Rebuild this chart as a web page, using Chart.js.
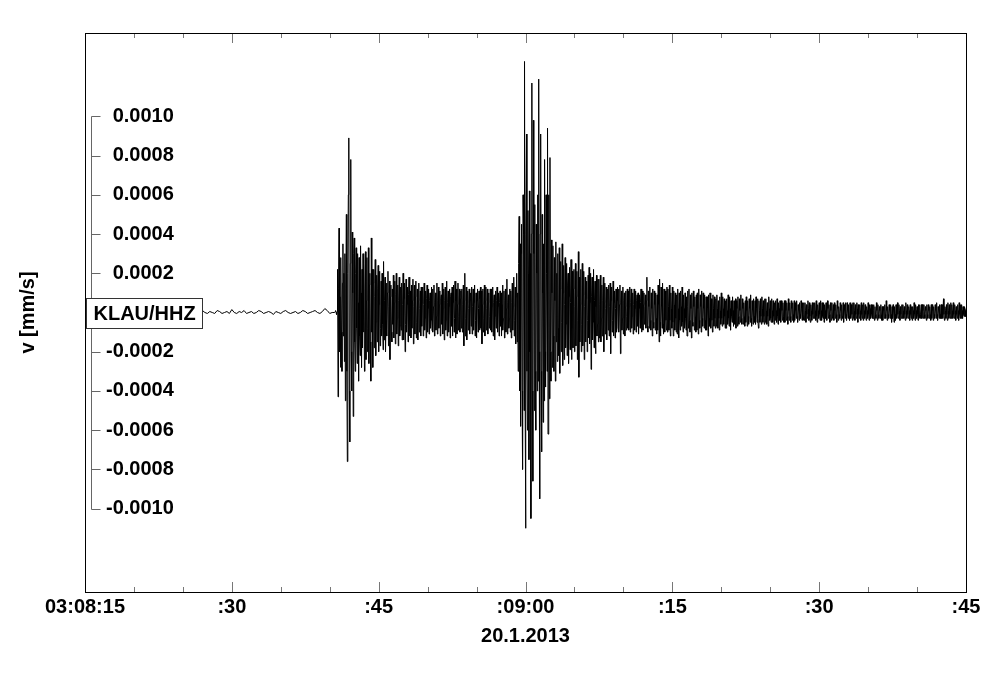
<!DOCTYPE html>
<html>
<head>
<meta charset="utf-8">
<script src="https://cdn.jsdelivr.net/npm/chart.js@4/dist/chart.umd.min.js"></script>
<style>
  html, body { margin: 0; padding: 0; background: #fff; }
  #wrap { width: 1000px; height: 677px; }
</style>
</head>
<body>
<div id="wrap"><canvas id="seis" width="1000" height="677"></canvas></div>
<script>
// station trace, time in seconds after 03:08:15
const stationLabel = 'KLAU/HHZ';
const dateLabel = '20.1.2013';
const unitLabel = 'v [mm/s]';

const xTickSeconds = [0, 15, 30, 45, 60, 75, 90];
const xTickLabels = ['03:08:15', ':30', ':45', ':09:00', ':15', ':30', ':45'];
const xMinorStep = 5;
const yTickValues = [-0.001, -0.0008, -0.0006, -0.0004, -0.0002, 0.0002, 0.0004, 0.0006, 0.0008, 0.001];

// amplitudes below are in units of 1e-5 mm/s
const ampUnit = 1e-5;

// quiet part before the first arrival
const quietStart = 8;
const quietStep = 0.25;
const quietAmp = [
  0, 0.5, -0.5, 0, 0.5, 1, 0, -0.5,
  0, 0.5, -0.5, 0.5, 0, -1, 0, 0.5,
  1, 0, -0.5, 0.5, 0, -0.5, 1, 0.5,
  -0.5, 0, 0.5, -0.5, 1.5, 0, -0.5, 0.5,
  0, 1, -0.5, 0, 0.5, -0.5, 0, 1,
  0.5, -0.5, 0, 0.5, 0, -1, 0.5, 0,
  -0.5, 0.5, 1, 0, -0.5, 0, 0.5, -0.5,
  0, 1, 0.5, -0.5, 0, 0.5, 1, 0,
  -0.5, 0.5, 2, 1, -0.5, 0
];

// from 25.5 s to 90 s, one row per second (20 samples)
const quakeStart = 25.5;
const quakeStep = 0.05;
const quakeAmp = [
  0, 0.5, 1, 0, -1, 0.5, 22, -43, 12, 43, -20, 8, -28, 28, -10, -30, 15, 35, -12, 20,
  -25, 30, -45, 12, 50, -30, -76, 20, 60, 89, -40, -66, 25, 78, -20, -40, 41, 10, -53, 30,
  38, -15, -30, 20, 33, -8, -26, 30, 5, -35, 28, -12, -22, 34, 10, -28, 22, -18, 30, -10,
  25, -30, 12, 31, -24, 6, 28, -20, -8, 33, -26, 14, 20, -15, -35, 38, -10, 22, -28, 15,
  22, -18, 8, 27, -22, -5, 19, -15, 12, 24, -20, 4, 21, -17, -8, 16, -12, 20, -6, -19,
  26, -14, 6, 18, -20, -4, 15, -12, 10, 21, -17, 3, 16, -24, 8, 14, -10, -15, 12, -6,
  19, -13, 5, 16, -16, 9, 20, -11, -3, 14, -17, 6, 18, -12, -7, 13, -9, 15, -14, 4,
  20, -14, 7, 15, -20, -6, 17, -10, 4, 13, -15, 9, 18, -12, -4, 11, -13, 14, -8, 6,
  17, -16, 3, 14, -11, 8, 16, -13, -5, 12, -14, 6, 15, -10, 2, 11, -12, 13, -7, 5,
  13, -12, 4, 15, -9, -3, 11, -13, 7, 14, -10, 2, 12, -11, 6, 10, -8, -4, 13, -9,
  12, -10, 3, 14, -12, 5, 10, -9, -2, 15, -11, 6, 13, -8, 4, 11, -12, 7, 9, -6,
  15, -11, 2, 12, -14, 6, 13, -9, -4, 16, -12, 5, 11, -10, 3, 12, -13, 8, 10, -7,
  13, -12, 5, 14, -10, -3, 16, -13, 6, 12, -11, 4, 15, -9, -2, 12, -10, 7, 11, -8,
  12, -10, 4, 14, -17, 6, 20, -12, -3, 13, -14, 5, 11, -9, 2, 12, -11, 6, 10, -7,
  13, -11, 3, 12, -9, 5, 14, -12, -4, 10, -13, 6, 12, -10, 2, 11, -9, 7, 13, -8,
  11, -16, 4, 12, -10, -3, 14, -12, 6, 13, -9, 2, 12, -11, 5, 10, -8, -2, 12, -9,
  12, -10, 3, 13, -12, 5, 9, -14, -2, 11, -8, 6, 13, -10, 3, 10, -12, 5, 11, -7,
  10, -12, 4, 14, -9, -3, 11, -13, 6, 12, -10, 2, 17, -11, 5, 9, -8, -3, 12, -10,
  11, -13, 5, 15, -9, 3, 18, -12, -4, 13, -16, 8, 20, -15, 10, -30, 25, 49, -40, 35,
  -58, 30, 45, -40, -80, 60, 40, -50, 128, -30, -110, 40, 91, -30, -60, 52, 20, -75, 62, -20,
  30, -105, 40, 117, -40, -86, 98, 30, -50, 55, -30, -60, 45, 20, -40, 60, -35, 119, -20, -95,
  40, 91, -30, -71, 50, 10, -56, 35, -45, 78, -20, -38, 60, 20, -30, 94, -62, 30, 60, -44,
  79, -20, -35, 37, 10, -28, 34, -12, -30, 28, 6, -35, 36, -15, 20, -25, 30, -8, -22, 33,
  -31, 12, 26, -20, -5, 35, -27, 10, 24, -24, 4, 28, -18, -6, 25, -22, 14, 20, -26, 8,
  23, -19, 5, 27, -24, -8, 21, -18, 12, 22, -20, 3, 25, -17, 8, 21, -24, -4, 31, -33,
  18, -15, 4, 22, -20, -6, 25, -17, 9, 21, -24, 3, 18, -15, 7, 16, -20, -4, 19, -13,
  23, -16, 5, 20, -29, 8, 18, -14, -5, 22, -18, 6, 16, -21, 3, 19, -12, -6, 17, -15,
  17, -13, 4, 19, -15, -3, 14, -12, 6, 18, -20, 5, 15, -11, 2, 13, -14, 7, 12, -9,
  14, -12, 3, 15, -21, 6, 13, -10, -4, 16, -12, 5, 11, -13, 2, 12, -10, 6, 13, -8,
  12, -10, 4, 14, -21, 5, 11, -9, -3, 13, -11, 6, 10, -12, 3, 11, -9, -2, 12, -8,
  11, -9, 3, 13, -10, 5, 12, -8, -2, 10, -11, 4, 12, -9, 2, 11, -10, 6, 9, -7,
  10, -11, 2, 9, -8, 5, 12, -10, -3, 11, -9, 4, 10, -6, 3, 9, -8, 6, 18, -7,
  -10, 11, 3, -8, 13, -4, -9, 10, 2, -12, 12, -5, -8, 11, 4, -9, 10, -3, -11, 9,
  -9, 14, 4, -15, 17, -5, -12, 13, 3, -8, 15, -6, -11, 12, 2, -10, 11, -4, -9, 13,
  -10, 12, 3, -9, 14, -4, -12, 10, 2, -8, 13, -5, -12, 11, 4, -9, 10, -3, -10, 9,
  -11, 12, 2, -13, 10, -4, -9, 11, 3, -7, 13, -5, -10, 9, 2, -8, 10, -3, -9, 8,
  -12, 11, 3, -8, 12, -4, -10, 9, 2, -13, 10, -5, -7, 11, 3, -9, 8, -2, -10, 9,
  -9, 10, 2, -11, 12, -4, -8, 9, 3, -10, 11, -3, -7, 10, 2, -8, 9, -4, -9, 8,
  -9, 8, 2, -12, 9, -3, -7, 10, 1, -8, 7, -4, -10, 9, 2, -7, 8, -3, -8, 7,
  -7, 9, 2, -8, 6, -3, -9, 8, 1, -6, 10, -3, -7, 8, 2, -6, 7, -2, -8, 6,
  -8, 7, 1, -6, 9, -3, -7, 8, 2, -9, 6, -2, -5, 8, 1, -7, 6, -3, -6, 7,
  -8, 6, 2, -7, 8, -2, -6, 7, 1, -5, 9, -3, -6, 7, 2, -6, 5, -2, -7, 6,
  -5, 8, 1, -7, 6, -2, -6, 7, 2, -5, 9, -3, -7, 6, 1, -6, 7, -2, -5, 6,
  -6, 8, 2, -5, 7, -3, -8, 6, 1, -5, 7, -2, -6, 8, 2, -5, 6, -2, -6, 7,
  -5, 7, 1, -6, 5, -2, -7, 8, 2, -4, 6, -3, -5, 7, 1, -5, 6, -2, -6, 5,
  -4, 6, 1, -5, 7, -2, -6, 5, 2, -4, 6, -2, -5, 6, 1, -4, 5, -2, -5, 6,
  -5, 6, 1, -4, 5, -2, -6, 7, 1, -4, 5, -2, -5, 6, 2, -4, 5, -1, -5, 6,
  -4, 5, 1, -3, 6, -2, -5, 4, 1, -4, 5, -1, -3, 6, 2, -4, 5, -1, -4, 5,
  -4, 5, 1, -5, 4, -1, -3, 6, 2, -4, 5, -2, -5, 4, 1, -4, 5, -1, -3, 5,
  -3, 5, 1, -4, 6, -2, -5, 4, 1, -3, 5, -1, -4, 6, 1, -4, 5, -2, -3, 5,
  -5, 4, 1, -3, 5, -1, -4, 6, 2, -3, 4, -1, -5, 5, 1, -4, 5, -2, -3, 4,
  -4, 5, 1, -3, 4, -1, -5, 6, 2, -4, 3, -1, -3, 5, 1, -4, 4, -2, -3, 5,
  -5, 4, 1, -3, 5, -1, -4, 5, 1, -3, 4, -2, -4, 5, 1, -3, 4, -1, -4, 5,
  -3, 5, 1, -4, 4, -1, -3, 5, 2, -5, 4, -1, -3, 4, 1, -4, 5, -1, -3, 4,
  -4, 5, 1, -3, 4, -1, -4, 3, 1, -3, 5, -1, -4, 4, 2, -3, 4, -1, -3, 4,
  -3, 4, 1, -4, 3, -1, -3, 5, 1, -4, 4, -1, -3, 3, 1, -3, 4, -1, -4, 3,
  -4, 3, 1, -3, 4, -1, -3, 6, 1, -4, 3, -1, -3, 4, 1, -3, 4, -1, -5, 3,
  -3, 4, 1, -5, 3, -1, -4, 4, 1, -3, 5, -1, -3, 4, 1, -4, 3, -1, -3, 4,
  -3, 4, 1, -3, 3, -1, -4, 5, 1, -3, 4, -1, -3, 3, 1, -4, 4, -1, -3, 3,
  -4, 3, 1, -3, 5, -1, -4, 4, 1, -3, 3, -1, -4, 4, 1, -3, 4, -1, -3, 4,
  -3, 4, 1, -3, 4, -1, -3, 3, 1, -4, 4, -1, -3, 4, 1, -3, 3, -1, -4, 4,
  -3, 4, 1, -4, 3, -1, -3, 4, 1, -3, 5, -1, -4, 3, 1, -3, 4, -1, -3, 4,
  -3, 4, 1, -3, 7, -1, -4, 3, 1, -3, 4, -1, -4, 5, 1, -3, 4, -1, -3, 5,
  -3, 4, 1, -3, 5, -1, -3, 4, 1, -4, 3, -1, -3, 4, 1, -4, 5, -1, -3, 4,
  -3, 4, 1, -3, 3, -1, -2, 3, 1, -2, 2
];

const fontFamily = '"Liberation Sans", Arial, Helvetica, sans-serif';
const boldFont = { family: fontFamily, size: 20, weight: 'bold' };

const trace = quietAmp.map((a, i) => ({ x: quietStart + i * quietStep, y: a * ampUnit }))
  .concat(quakeAmp.map((a, i) => ({ x: quakeStart + i * quakeStep, y: a * ampUnit })));

const seisDecor = {
  id: 'seisDecor',
  beforeDatasetsDraw(chart) {
    const { ctx, chartArea: a, scales: { y } } = chart;
    // inner amplitude axis
    const ax = Math.round(a.left + 6) + 0.5;
    ctx.save();
    ctx.strokeStyle = '#666';
    ctx.lineWidth = 1;
    ctx.beginPath();
    ctx.moveTo(ax, Math.round(y.getPixelForValue(yTickValues[yTickValues.length - 1])) + 0.5);
    ctx.lineTo(ax, Math.round(y.getPixelForValue(yTickValues[0])) + 0.5);
    yTickValues.concat([0]).forEach(v => {
      const py = Math.round(y.getPixelForValue(v)) + 0.5;
      ctx.moveTo(ax, py);
      ctx.lineTo(ax + 9, py);
    });
    ctx.stroke();
    ctx.restore();
  },
  afterDatasetsDraw(chart) {
    const { ctx, chartArea: a, scales: { x, y } } = chart;
    ctx.save();
    // time ticks on top and bottom edge
    ctx.strokeStyle = '#777';
    ctx.lineWidth = 1;
    ctx.beginPath();
    for (let s = x.min; s <= x.max; s += xMinorStep) {
      const px = Math.round(x.getPixelForValue(s)) + 0.5;
      const len = xTickSeconds.includes(s) ? 10 : 5;
      ctx.moveTo(px, a.bottom);
      ctx.lineTo(px, a.bottom - len);
      ctx.moveTo(px, a.top);
      ctx.lineTo(px, a.top + len);
    }
    ctx.stroke();
    // frame
    ctx.strokeStyle = '#000';
    ctx.strokeRect(Math.round(a.left) + 0.5, Math.round(a.top) + 0.5,
      Math.round(a.right - a.left), Math.round(a.bottom - a.top));
    // station label box on the zero line
    ctx.font = 'bold 20px ' + fontFamily;
    const tw = ctx.measureText(stationLabel).width;
    const zy = Math.round(y.getPixelForValue(0));
    const bx = Math.round(a.left) + 1.5;
    ctx.fillStyle = '#fff';
    ctx.fillRect(bx, zy - 15, tw + 14, 30);
    ctx.strokeStyle = '#333';
    ctx.strokeRect(bx, zy - 14.5, Math.round(tw + 14), 30);
    ctx.fillStyle = '#000';
    ctx.textBaseline = 'middle';
    ctx.fillText(stationLabel, bx + 7, zy + 1);
    ctx.restore();
  }
};

new Chart(document.getElementById('seis'), {
  type: 'line',
  data: {
    datasets: [{
      data: trace,
      borderColor: '#000',
      borderWidth: 1,
      pointRadius: 0,
      tension: 0,
      fill: false
    }]
  },
  options: {
    responsive: false,
    animation: false,
    events: [],
    layout: { padding: { left: 0, right: 34, top: 32, bottom: 20 } },
    plugins: { legend: { display: false }, tooltip: { enabled: false } },
    scales: {
      x: {
        type: 'linear',
        min: 0,
        max: 90,
        grid: { display: false, drawTicks: false },
        border: { display: false },
        afterBuildTicks: s => { s.ticks = xTickSeconds.map(v => ({ value: v })); },
        ticks: {
          autoSkip: false,
          maxRotation: 0,
          padding: 3,
          color: '#000',
          font: boldFont,
          callback: (v, i) => xTickLabels[i]
        },
        title: {
          display: true,
          text: dateLabel,
          color: '#000',
          font: boldFont,
          padding: { top: 2, bottom: 9 }
        }
      },
      y: {
        type: 'linear',
        min: -0.001425,
        max: 0.001425,
        grid: { display: false, drawTicks: false },
        border: { display: false },
        afterBuildTicks: s => { s.ticks = yTickValues.map(v => ({ value: v })); },
        ticks: {
          mirror: true,
          crossAlign: 'far',
          autoSkip: false,
          padding: 21,
          color: '#000',
          font: boldFont,
          callback: v => v.toFixed(4)
        },
        title: {
          display: true,
          text: unitLabel,
          color: '#000',
          font: boldFont,
          padding: { top: 16, bottom: 3 }
        }
      }
    }
  },
  plugins: [seisDecor]
});
</script>
</body>
</html>
